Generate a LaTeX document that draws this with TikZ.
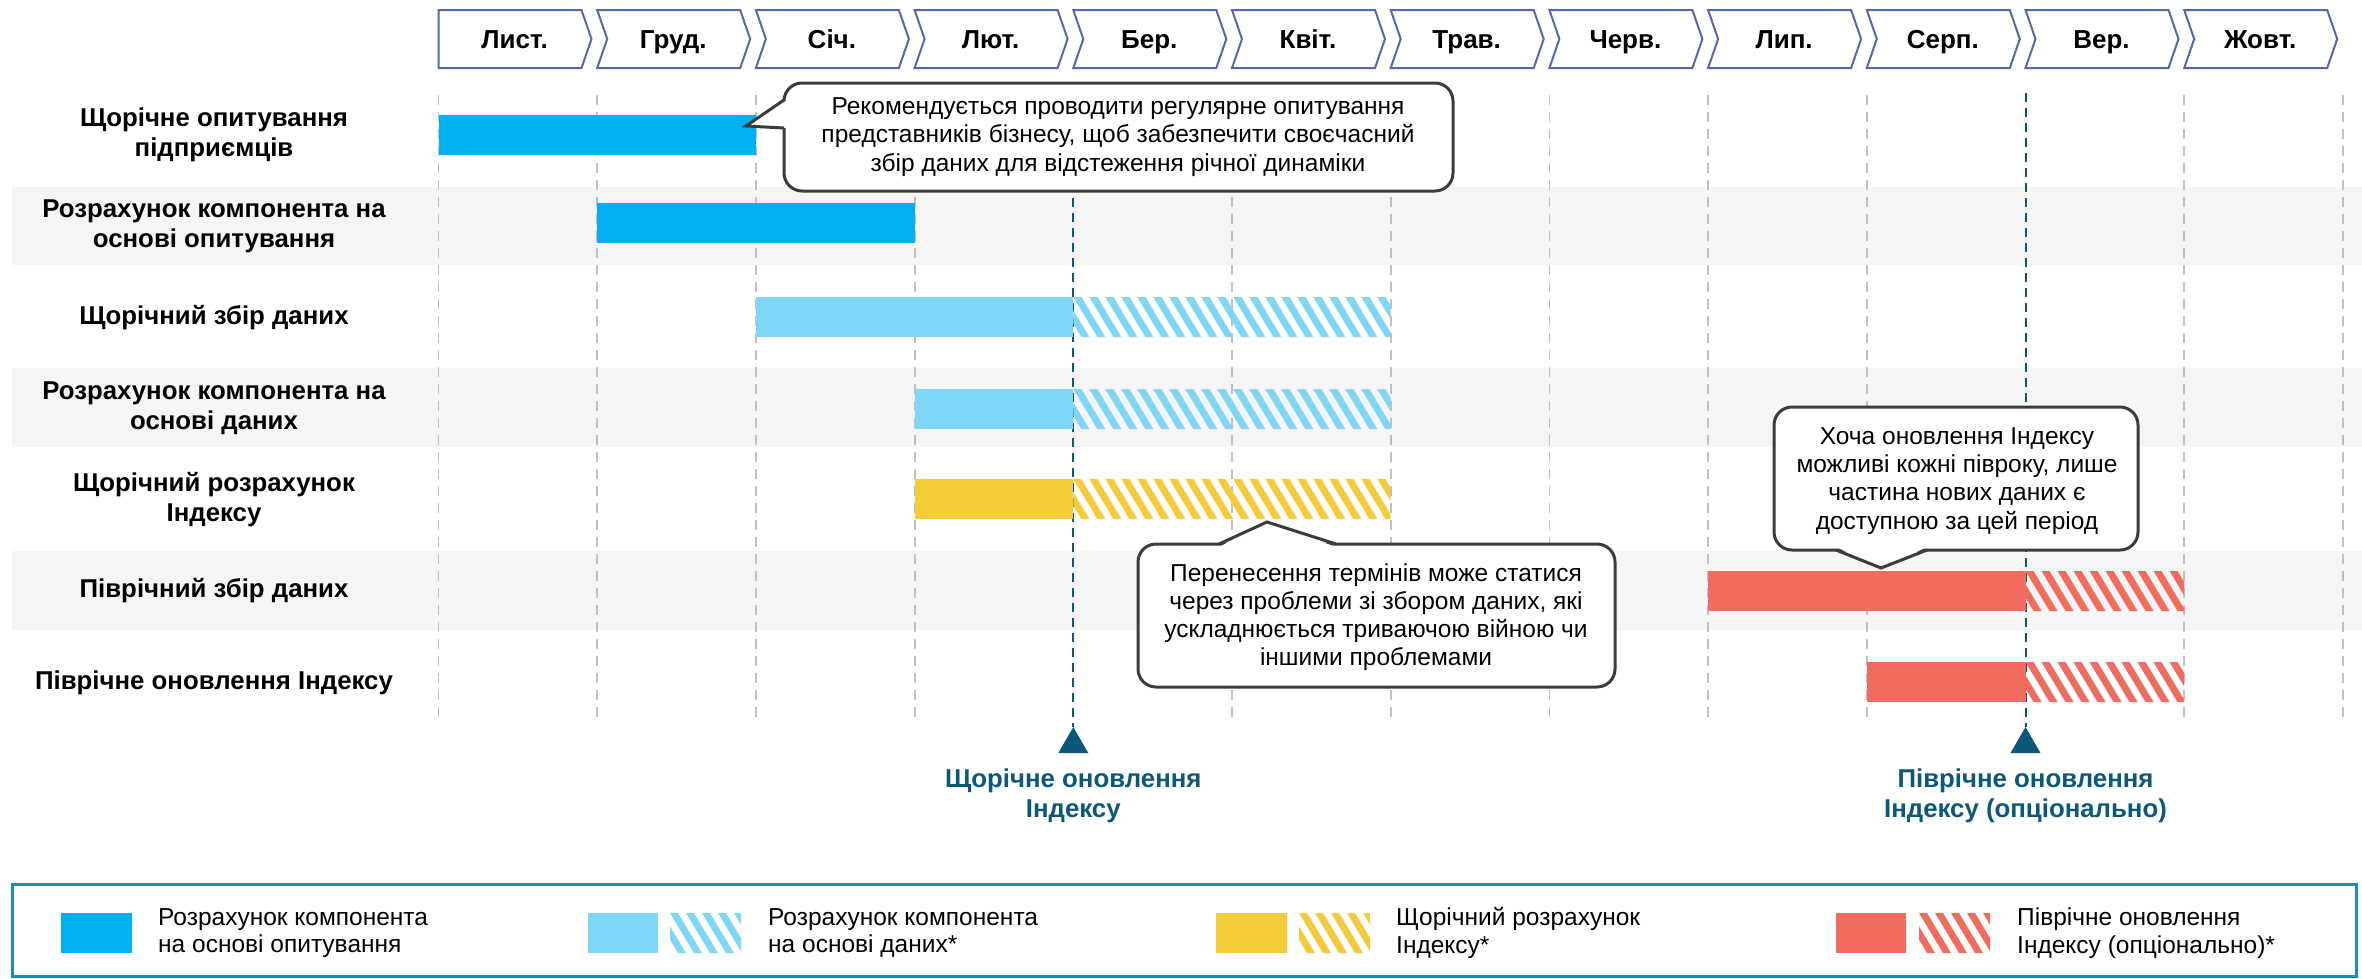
\documentclass[tikz,border=0pt]{standalone}
\usepackage{fontspec}
\setmainfont{Liberation Sans}
\definecolor{sky}{HTML}{00B0F0}
\definecolor{lsky}{HTML}{80D6F7}
\definecolor{gold}{HTML}{F4CC3A}
\definecolor{coral}{HTML}{F16B5F}
\definecolor{teal0}{HTML}{0B5878}
\definecolor{gridgray}{HTML}{C0C0C0}
\definecolor{band}{HTML}{F5F5F5}
\definecolor{chevblue}{HTML}{5569A8}
\definecolor{calloutgray}{HTML}{3C3C3C}
\definecolor{legframe}{HTML}{1A8BBF}
\newcommand\mx[1]{438.5+158.7*#1}
\newcommand\hatch[5]{%
  \begin{scope}
    \clip (#1,#2) rectangle (#3,#4);
    \foreach \i in {-2,...,21}{
      \fill[#5] ({#1+16*\i},#2) -- ++(8,0) -- ++(24,{#4-#2}) -- ++(-8,0) -- cycle;
    }
  \end{scope}}
\begin{document}
\begin{tikzpicture}[x=1pt,y=-1pt,
  lbl/.style={font=\fontsize{25.8}{30}\selectfont\bfseries, align=center, inner sep=0pt},
  mon/.style={font=\fontsize{26}{30}\selectfont\bfseries, anchor=base, inner sep=0pt},
  note/.style={font=\fontsize{24.5}{28.2}\selectfont, align=center, inner sep=0pt},
  leg/.style={font=\fontsize{24.5}{27.5}\selectfont, align=left, anchor=west, inner sep=0pt},
  upd/.style={font=\fontsize{25.8}{30}\selectfont\bfseries, align=center, text=teal0, inner sep=0pt},
  gridln/.style={draw=gridgray, line width=1.8pt, dash pattern=on 10pt off 7pt},
  mile/.style={draw=teal0, line width=2pt, dash pattern=on 9pt off 6pt},
  chev/.style={draw=chevblue, line width=2pt, fill=white, line join=miter},
  callout/.style={draw=calloutgray, line width=3pt, fill=white, rounded corners=18pt},
  ptr/.style={draw=calloutgray, line width=3pt, line join=miter},
]
\useasboundingbox (0,0) rectangle (2362,978);
\fill[white] (0,0) rectangle (2362,978);

% bands
\fill[band] (12,187) rectangle (2362,265);
\fill[band] (12,368) rectangle (2362,447);
\fill[band] (12,551) rectangle (2362,630);

% grid lines
\foreach \k in {0,1,2,3,5,6,7,8,9,11,12}
  \draw[gridln] ({\mx{\k}},95) -- ({\mx{\k}},718);
\foreach \k in {4,10}
  \draw[mile] ({\mx{\k}},93) -- ({\mx{\k}},727);

% bars
\fill[sky] ({\mx{0}},115) rectangle ({\mx{2}},155);
\fill[sky] ({\mx{1}},203) rectangle ({\mx{3}},243);
\fill[lsky] ({\mx{2}},297) rectangle ({\mx{4}},337);
\hatch{\mx{4}}{297}{\mx{6}}{337}{lsky}
\fill[lsky] ({\mx{3}},389) rectangle ({\mx{4}},429);
\hatch{\mx{4}}{389}{\mx{6}}{429}{lsky}
\fill[gold] ({\mx{3}},479) rectangle ({\mx{4}},519);
\hatch{\mx{4}}{479}{\mx{6}}{519}{gold}
\fill[coral] ({\mx{8}},571) rectangle ({\mx{10}},611);
\hatch{\mx{10}}{571}{\mx{11}}{611}{coral}
\fill[coral] ({\mx{9}},662) rectangle ({\mx{10}},702);
\hatch{\mx{10}}{662}{\mx{11}}{702}{coral}

% month chevrons
\foreach \m [count=\c from 0] in {Лист.,Груд.,Січ.,Лют.,Бер.,Квіт.,Трав.,Черв.,Лип.,Серп.,Вер.,Жовт.}{
  \pgfmathsetmacro\xo{438.5+158.7*\c}
  \pgfmathsetmacro\nd{\c==0 ? 0 : 10}
  \draw[chev] (\xo,10) -- ++(143,0) -- ++(10,29) -- ++(-10,29) -- ++(-143,0) -- ++(\nd,-29) -- cycle;
  \node[mon] (m\c) at (\xo+76,48) {\m};
}

% row labels
\node[lbl] (r1) at (214,135) {Щорічне опитування\\підприємців};
\node[lbl] (r2) at (214,226) {Розрахунок компонента на\\основі опитування};
\node[lbl] (r3) at (214,318) {Щорічний збір даних};
\node[lbl] (r4) at (214,408) {Розрахунок компонента на\\основі даних};
\node[lbl] (r5) at (214,500) {Щорічний розрахунок\\Індексу};
\node[lbl] (r6) at (214,591) {Піврічний збір даних};
\node[lbl] (r7) at (214,683) {Піврічне оновлення Індексу};

% callout 1
\draw[callout] (784,83) rectangle (1453,191);
\fill[white] (787,100) -- (746,126) -- (787,128) -- cycle;
\draw[ptr] (784,100) -- (746,126) -- (784,128);
\node[note] (n1) at (1118,137) {Рекомендується проводити регулярне опитування\\представників бізнесу, щоб забезпечити своєчасний\\збір даних для відстеження річної динаміки};

% callout 2
\draw[callout] (1138,544) rectangle (1615,687);
\fill[white] (1219,547) -- (1267,522) -- (1336,547) -- cycle;
\draw[ptr] (1219,544) -- (1267,522) -- (1336,544);
\node[note] (n2) at (1376,617) {Перенесення термінів може статися\\через проблеми зі збором даних, які\\ускладнюється триваючою війною чи\\іншими проблемами};

% callout 3
\draw[callout] (1774,407) rectangle (2138,550);
\fill[white] (1836,547) -- (1881,568) -- (1927,547) -- cycle;
\draw[ptr] (1836,550) -- (1881,568) -- (1927,550);
\node[note] (n3) at (1957,481) {Хоча оновлення Індексу\\можливі кожні півроку, лише\\частина нових даних є\\доступною за цей період};

% milestones
\fill[teal0] ({\mx{4}},727) -- ++(15,26) -- ++(-30,0) -- cycle;
\fill[teal0] ({\mx{10}},727) -- ++(15,26) -- ++(-30,0) -- cycle;
\node[upd] (u1) at ({\mx{4}},796) {Щорічне оновлення\\Індексу};
\node[upd] (u2) at ({\mx{10}},796) {Піврічне оновлення\\Індексу (опціонально)};

% legend
\draw[legframe, line width=3pt] (12,884) rectangle (2356,976);
\fill[sky] (61,913) rectangle (132,953);
\node[leg] (l1) at (158,933) {Розрахунок компонента\\на основі опитування};
\fill[lsky] (588,913) rectangle (658,953);
\hatch{670}{913}{741}{953}{lsky}
\node[leg] (l2) at (768,933) {Розрахунок компонента\\на основі даних*};
\fill[gold] (1216,913) rectangle (1287,953);
\hatch{1299}{913}{1370}{953}{gold}
\node[leg] (l3) at (1396,933) {Щорічний розрахунок\\Індексу*};
\fill[coral] (1836,913) rectangle (1906,953);
\hatch{1919}{913}{1990}{953}{coral}
\node[leg] (l4) at (2017,933) {Піврічне оновлення\\Індексу (опціонально)*};
\end{tikzpicture}
\end{document}
